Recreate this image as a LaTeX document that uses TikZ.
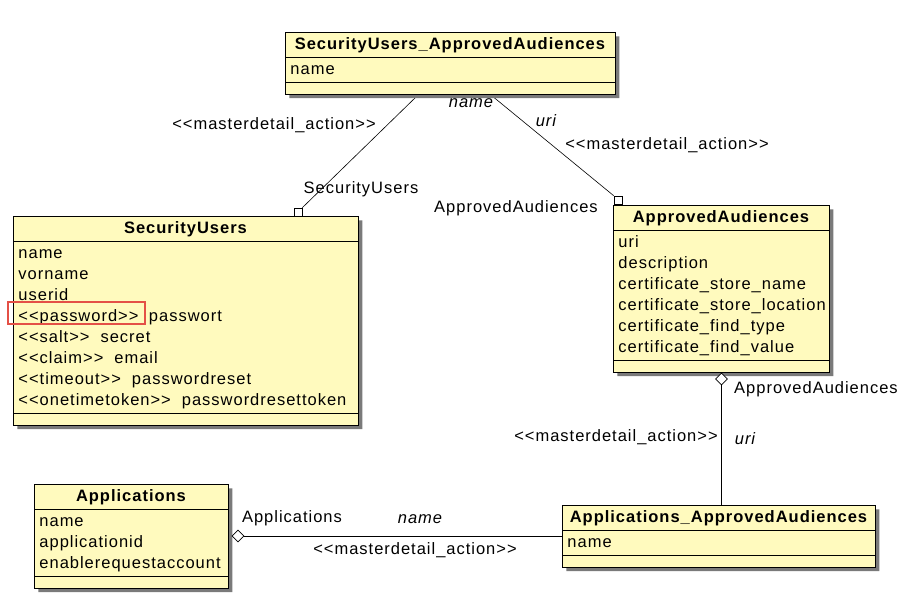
\documentclass[tikz,border=0pt]{standalone}
\usepackage{fontspec}
\setmainfont{Liberation Sans}[LetterSpace=6]
\usetikzlibrary{shapes.multipart,shapes.geometric,shadows,backgrounds}
\definecolor{classfill}{RGB}{255,250,190}
\definecolor{markred}{RGB}{228,80,70}
\newcommand{\st}[1]{<{}<#1>{}>}
\newcommand{\ctitle}[1]{\strut\hfill\textbf{#1}\hfill\null}

\begin{document}
\begin{tikzpicture}[x=1pt,y=-1pt,
  txt/.style={font=\fontsize{16.5}{21}\selectfont},
  umlclass/.style={txt,rectangle split,rectangle split parts=3,draw,line width=0.9pt,
    fill=classfill,anchor=north west,inner xsep=5pt,inner ysep=1.5pt,
    drop shadow={shadow xshift=4pt,shadow yshift=-4pt,fill=black!52,opacity=1}},
  lbl/.style={txt,inner sep=0pt},
  sqmark/.style={draw,fill=white,inner sep=0pt,minimum size=8pt,line width=0.6pt},
  diamark/.style={diamond,draw,fill=white,inner sep=0pt,minimum width=12pt,minimum height=12pt,line width=0.6pt},
  conn/.style={line width=0.6pt}]
\useasboundingbox (0,0) rectangle (912,600);

\node[umlclass,text width=320pt] (sua) at (285,32)
  {\ctitle{SecurityUsers\_ApprovedAudiences}
   \nodepart{two}\strut name
   \nodepart{three}\rule{0pt}{8pt}};

\node[umlclass,text width=335pt] (su) at (13,216)
  {\ctitle{SecurityUsers}
   \nodepart{two}\strut name\\
   \strut vorname\\
   \strut userid\\
   \strut \st{password}\hspace{5pt} passwort\\
   \strut \st{salt}~ secret\\
   \strut \st{claim}~ email\\
   \strut \st{timeout}~ passwordreset\\
   \strut \st{onetimetoken}~ passwordresettoken
   \nodepart{three}\rule{0pt}{8pt}};

\node[umlclass,text width=206pt] (aa) at (613,205)
  {\ctitle{ApprovedAudiences}
   \nodepart{two}\strut uri\\
   \strut description\\
   \strut certificate\_store\_name\\
   \strut certificate\_store\_location\\
   \strut certificate\_find\_type\\
   \strut certificate\_find\_value
   \nodepart{three}\rule{0pt}{8pt}};

\node[umlclass,text width=184pt] (app) at (34,484)
  {\ctitle{Applications}
   \nodepart{two}\strut name\\
   \strut applicationid\\
   \strut enablerequestaccount
   \nodepart{three}\rule{0pt}{8pt}};

\node[umlclass,text width=303pt] (aaa) at (562,505)
  {\ctitle{Applications\_ApprovedAudiences}
   \nodepart{two}\strut name
   \nodepart{three}\rule{0pt}{8pt}};

\node[sqmark] (suSq) at (298,212) {};
\node[sqmark] (aaSq) at (618,200) {};
\node[diamark] (aaDia) at (721.5,379) {};
\node[diamark] (appDia) at (238,536) {};

\begin{pgfonlayer}{background}
\draw[conn] ([xshift=-32pt]sua.south) -- (suSq.north east);
\draw[conn] ([xshift=40pt]sua.south) -- (aaSq.north west);
\draw[conn] (aaDia.south) -- (aaDia.south |- aaa.north);
\draw[conn] (appDia.east) -- (appDia.east -| aaa.west);
\end{pgfonlayer}

\draw[markred,line width=1.2pt] (8,302) rectangle (145,324);

\node[lbl] (suaRole) at (274,125) {\st{masterdetail\_action}};
\node[lbl] (suaName) at (471,103) {\itshape name};
\node[lbl] (suRole) at (361,189) {SecurityUsers};
\node[lbl] (aaUri) at (546,121) {\itshape uri};
\node[lbl] (aaRole) at (667,145) {\st{masterdetail\_action}};
\node[lbl] (aaName) at (516,208) {ApprovedAudiences};
\node[lbl] (aaaName) at (816,389) {ApprovedAudiences};
\node[lbl] (aaaRole) at (616,437) {\st{masterdetail\_action}};
\node[lbl] (aaaUri) at (745,439) {\itshape uri};
\node[lbl] (appName) at (292,518) {Applications};
\node[lbl] (appKey) at (420,519) {\itshape name};
\node[lbl] (appRole) at (415,550) {\st{masterdetail\_action}};
\end{tikzpicture}
\end{document}
